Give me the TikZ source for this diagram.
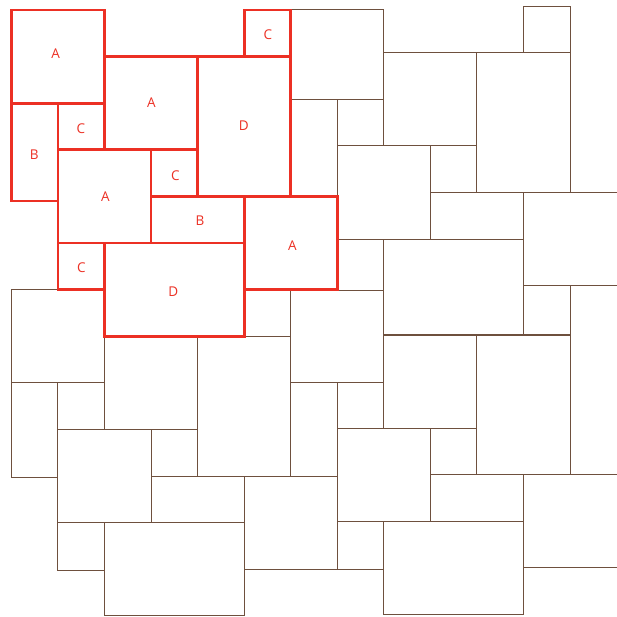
\documentclass[tikz,border=0pt]{standalone}
\usepackage{fontspec}
\setmainfont{Open Sans}
\definecolor{tilered}{RGB}{236,48,36}
\definecolor{tilebrown}{RGB}{110,80,62}
\tikzset{
  browntile/.style={draw=tilebrown,line width=1pt},
  redtile/.style={draw=tilered,line width=2.8pt,line join=miter},
  tilelabel/.style={text=tilered,inner sep=0pt,font=\fontsize{13.5}{15}\selectfont},
}
\newcommand\btile[4]{\draw[browntile] (#1,#2) rectangle (#3,#4);}
\newcommand\rtile[4]{\draw[redtile] (#1,#2) rectangle (#3,#4);}
\begin{document}
\begin{tikzpicture}[x=1pt,y=-1pt]
\fill[white] (0,0) rectangle (616,617);
% copy (0,1)
\btile{11.3}{289.6}{104.4}{382.8}
\btile{11.3}{382.8}{57.9}{477.7}
\btile{57.9}{382.8}{104.4}{429.4}
\btile{104.4}{336.2}{197.5}{429.4}
\btile{244.1}{289.6}{290.7}{336.2}
\btile{197.5}{336.2}{290.7}{476}
\btile{57.9}{429.4}{151.0}{522.6}
\btile{151.0}{429.4}{197.5}{476}
\btile{151.0}{476}{244.1}{522.6}
\btile{244.1}{476}{337.2}{569.2}
\btile{57.9}{522.6}{104.4}{570.5}
\btile{104.4}{522.6}{244.1}{615.8}
% copy (1,0)
\btile{290.7}{10}{383.8}{100}
\btile{290.7}{100}{337.2}{196.4}
\btile{337.2}{100}{383.8}{146}
\btile{383.8}{52.8}{476.9}{146}
\btile{523.5}{6.2}{570}{52.8}
\btile{476.9}{52.8}{570}{192.6}
\btile{337.2}{146}{430.3}{239.2}
\btile{430.3}{146}{476.9}{192.6}
\btile{430.3}{192.6}{523.5}{239.2}
\btile{523.5}{192.6}{620}{285.8}
\btile{337.2}{239.2}{383.8}{290}
\btile{383.8}{239.2}{523.5}{334.5}
% copy (1,1)
\btile{290.7}{290}{383.8}{382}
\btile{290.7}{382}{337.2}{476}
\btile{337.2}{382}{383.8}{428.3}
\btile{383.8}{335}{476.9}{428.3}
\btile{523.5}{285.8}{570}{334.7}
\btile{476.9}{335}{570}{474.3}
\btile{337.2}{428.3}{430.3}{521.3}
\btile{430.3}{428.3}{476.9}{474.3}
\btile{430.3}{474.3}{523.5}{521.3}
\btile{523.5}{474.3}{620}{567.7}
\btile{337.2}{521.3}{383.8}{569.3}
\btile{383.8}{521.3}{523.5}{614.3}
% red fundamental group
\rtile{11.3}{10}{104.4}{103.2}
\rtile{104.4}{56.6}{197.5}{149.8}
\rtile{244.1}{10}{290.7}{56.6}
\rtile{197.5}{56.6}{290.7}{196.4}
\rtile{11.3}{103.2}{57.9}{201}
\rtile{57.9}{103.2}{104.4}{149.8}
\rtile{57.9}{149.8}{151.0}{243}
\rtile{151.0}{149.8}{197.5}{196.4}
\rtile{151.0}{196.4}{244.1}{243}
\rtile{244.1}{196.4}{337.2}{289.6}
\rtile{57.9}{243}{104.4}{289.6}
\rtile{104.4}{243}{244.1}{336.2}
% labels
\node[tilelabel] (la1) at (55.7,53.3) {A};
\node[tilelabel] (la2) at (151.3,102.7) {A};
\node[tilelabel] (lc0) at (268,35) {C};
\node[tilelabel] (ld1) at (243.7,125.3) {D};
\node[tilelabel] (lb1) at (34.3,154.3) {B};
\node[tilelabel] (lc2) at (81,128.3) {C};
\node[tilelabel] (la3) at (105.3,196.7) {A};
\node[tilelabel] (lc3) at (175.3,175.7) {C};
\node[tilelabel] (lb2) at (200,220.7) {B};
\node[tilelabel] (la4) at (292.3,245.7) {A};
\node[tilelabel] (lc4) at (81.3,267.3) {C};
\node[tilelabel] (ld2) at (173.3,292) {D};
\pgfresetboundingbox
\useasboundingbox (0,0) rectangle (616,617);
\end{tikzpicture}
\end{document}
